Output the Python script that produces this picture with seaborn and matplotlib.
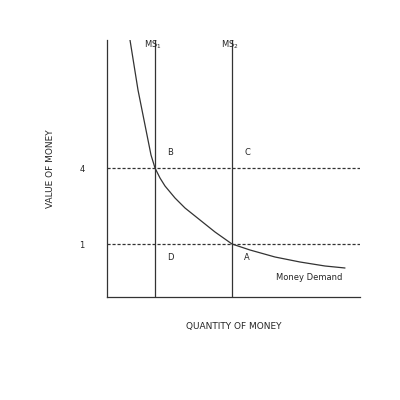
import matplotlib
matplotlib.use("Agg")
import matplotlib.pyplot as plt
import pandas as pd
import seaborn as sns

# money demand curve (arbitrary units)
demand_q = [23, 27, 31, 36, 41, 44, 48, 53, 58, 68, 78, 93, 108, 125, 143, 168, 193, 218, 238]
demand_v = [257, 232, 207, 182, 157, 142, 129, 119, 111, 99, 89, 77, 65, 53, 47, 40, 35, 31, 29]
ms_levels = [48, 125]
ms_labels = ["MS$_1$", "MS$_2$"]
value_levels = [129, 53]
value_labels = ["4", "1"]
points = {"B": (48, 129), "C": (125, 129), "D": (48, 53), "A": (125, 53)}

sns.set_style("white")
fig = plt.figure(figsize=(4, 4), dpi=100)
ax = fig.add_axes([0.2675, 0.2575, 0.6325, 0.6425])

df = pd.DataFrame({"q": demand_q, "v": demand_v})
sns.lineplot(data=df, x="q", y="v", sort=False, color="#333333", linewidth=0.9, ax=ax)

for q, lab in zip(ms_levels, ms_labels):
    ax.axvline(q, color="#333333", linewidth=0.9)
    ax.text(q - 2, 252, lab, fontsize=6, ha="center", va="center")
for v in value_levels:
    ax.axhline(v, color="#333333", linewidth=0.9, linestyle=(0, (2.5, 1.5)))

for name, (q, v) in points.items():
    dy = 16 if v > 100 else -13
    ax.text(q + 15, v + dy, name, fontsize=6, ha="center", va="center")
ax.text(169, 20, "Money Demand", fontsize=6, ha="left", va="center")

ax.set_xlim(0, 253)
ax.set_ylim(0, 257)
ax.set_xticks([])
ax.set_yticks(value_levels)
ax.set_yticklabels(value_labels, fontsize=6)
ax.tick_params(axis="y", length=0, pad=16)
ax.set_xlabel("QUANTITY OF MONEY", fontsize=6.5, labelpad=18)
ax.set_ylabel("VALUE OF MONEY", fontsize=6.5, labelpad=18)
for s in ["top", "right"]:
    ax.spines[s].set_visible(False)
for s in ["left", "bottom"]:
    ax.spines[s].set_color("#333333")
    ax.spines[s].set_linewidth(0.9)

fig.savefig("out.png", dpi=100)
